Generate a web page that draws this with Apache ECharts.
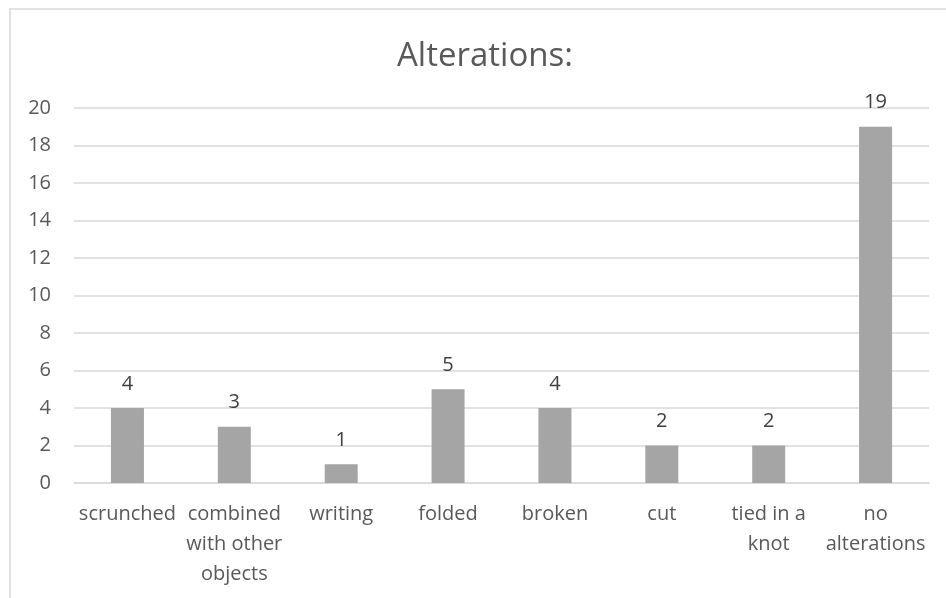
<!DOCTYPE html>
<html>
<head>
<meta charset="utf-8">
<style>
  html, body { margin: 0; padding: 0; background: #ffffff; }
  #chart { width: 946px; height: 598px; }
</style>
<script src="https://cdn.jsdelivr.net/npm/echarts@6/dist/echarts.min.js"></script>
</head>
<body>
<div id="chart"></div>
<script>
// Alteration types and how many items showed each one
const categories = [
  'scrunched',
  'combined\nwith other\nobjects',
  'writing',
  'folded',
  'broken',
  'cut',
  'tied in a\nknot',
  'no\nalterations'
];
const counts = [4, 3, 1, 5, 4, 2, 2, 19];
const yTicks = { min: 0, max: 20, step: 2 };

const FONT = '"Open Sans", "DejaVu Sans", sans-serif';
const TEXT = '#595959';
const GRID = '#d9d9d9';

const chart = echarts.init(document.getElementById('chart'), null, { renderer: 'canvas' });

chart.setOption({
  backgroundColor: '#ffffff',
  animation: false,
  title: {
    text: 'Alterations:',
    left: 392,
    top: 35,
    textStyle: { fontFamily: FONT, fontSize: 33, fontWeight: 'normal', color: TEXT }
  },
  // thin frame around the chart area
  graphic: [{
    type: 'rect',
    shape: { x: 10, y: 9, width: 1000, height: 1000 },
    style: { fill: 'none', stroke: GRID, lineWidth: 1.5 },
    silent: true
  }],
  grid: { left: 74, right: 17, top: 108, bottom: 115 },
  xAxis: {
    type: 'category',
    data: categories,
    axisTick: { show: false },
    axisLine: { lineStyle: { color: GRID, width: 1.5 } },
    axisLabel: {
      interval: 0,
      margin: 16,
      fontFamily: FONT,
      fontSize: 20,
      lineHeight: 30,
      color: TEXT
    }
  },
  yAxis: {
    type: 'value',
    min: yTicks.min,
    max: yTicks.max,
    interval: yTicks.step,
    axisLine: { show: false },
    axisTick: { show: false },
    splitLine: { lineStyle: { color: GRID, width: 1.5 } },
    axisLabel: {
      margin: 23,
      fontFamily: FONT,
      fontSize: 20,
      color: TEXT
    }
  },
  series: [{
    type: 'bar',
    data: counts,
    barWidth: 33,
    itemStyle: { color: '#a5a5a5' },
    label: {
      show: true,
      position: 'top',
      distance: 14,
      fontFamily: FONT,
      fontSize: 20,
      color: '#404040'
    }
  }]
});
</script>
</body>
</html>
